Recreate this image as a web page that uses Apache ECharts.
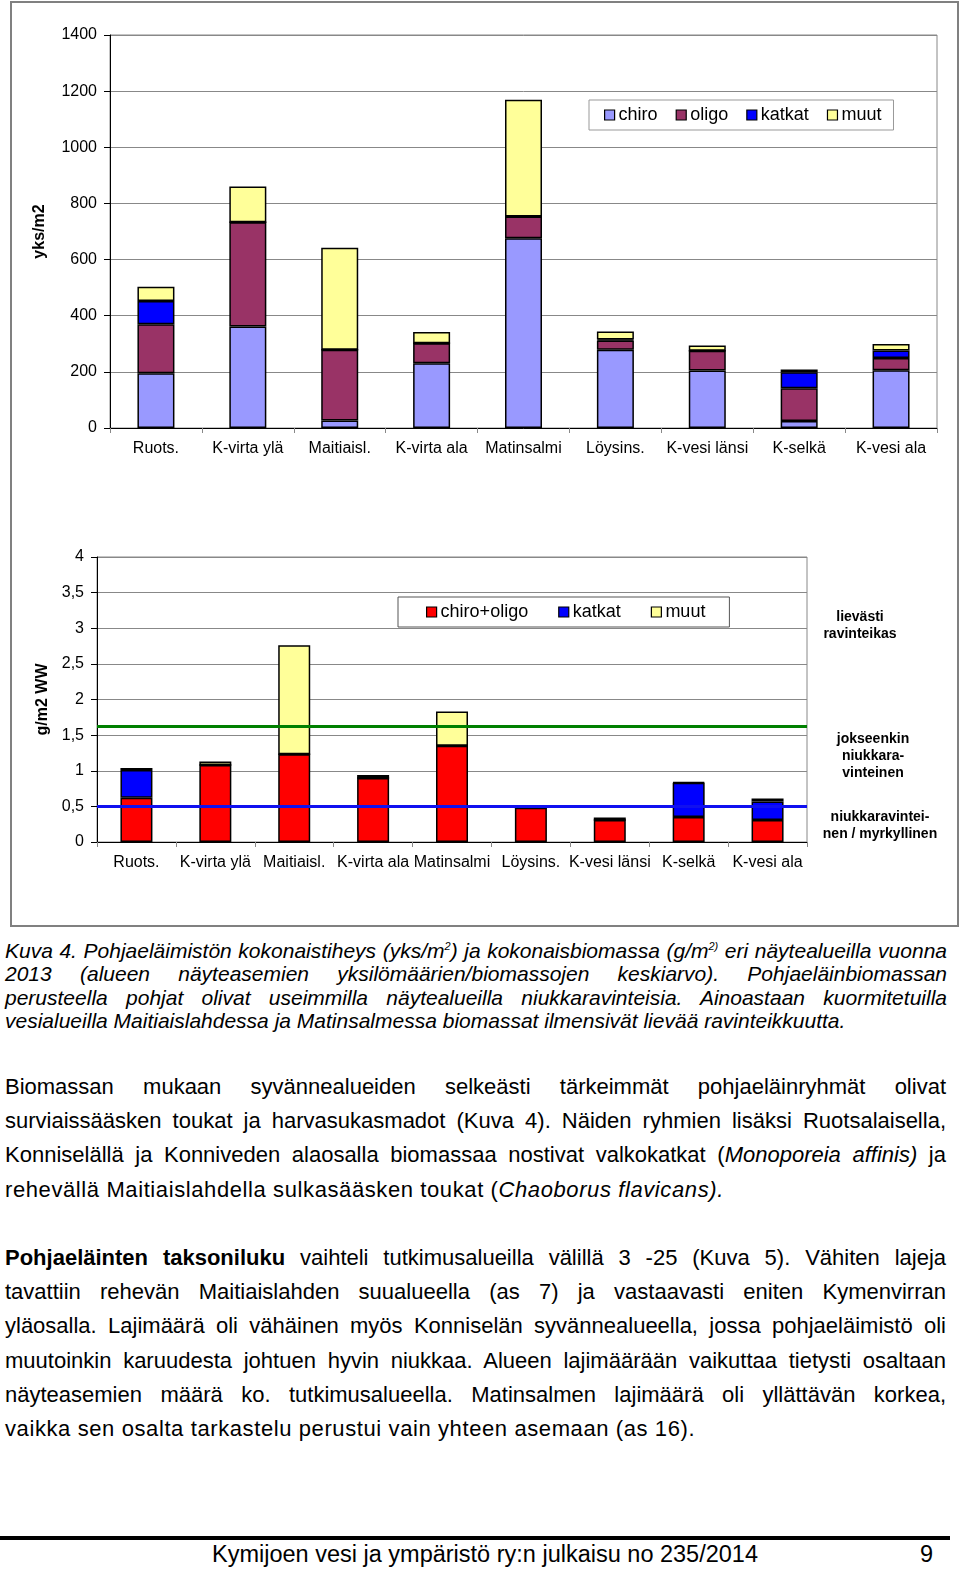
<!DOCTYPE html>
<html><head><meta charset="utf-8">
<script src="https://cdn.jsdelivr.net/npm/echarts@6/dist/echarts.min.js"></script>
<style>
body{margin:0;background:#fff;width:960px;height:1571px;position:relative;overflow:hidden;font-family:"Liberation Sans",Arial,sans-serif;color:#000}
#frame{position:absolute;left:10px;top:1px;width:945px;height:922px;border:2px solid #808080}
#chartTop{position:absolute;left:0;top:0;width:960px;height:470px}
#chartBot{position:absolute;left:0;top:470px;width:960px;height:460px}
.blk div{white-space:nowrap;text-align:justify;text-align-last:justify}
.blk div.last{text-align-last:left}
#caption{position:absolute;left:5px;top:939px;width:942px;font-style:italic;font-size:21px;line-height:23.4px}
#body{position:absolute;left:5px;top:1070px;width:941px;font-size:22px;line-height:34.2px}
#body .gap{height:34.2px}
#body div.last{letter-spacing:0.6px}
#rule{position:absolute;left:0;top:1536px;width:950px;height:4px;background:#000}
#foot{position:absolute;left:0;top:1540px;width:960px;font-size:23.5px;line-height:28px}
sup{font-size:11px;line-height:0}
</style></head><body>
<div id="frame"></div>
<div id="chartTop"></div>
<div id="chartBot"></div>
<div id="caption" class="blk">
<div>Kuva 4. Pohjaeläimistön kokonaistiheys (yks/m<sup>2</sup>) ja kokonaisbiomassa (g/m<sup>2)</sup> eri näytealueilla vuonna</div>
<div>2013 (alueen näyteasemien yksilömäärien/biomassojen keskiarvo). Pohjaeläinbiomassan</div>
<div>perusteella pohjat olivat useimmilla näytealueilla niukkaravinteisia. Ainoastaan kuormitetuilla</div>
<div class="last">vesialueilla Maitiaislahdessa ja Matinsalmessa biomassat ilmensivät lievää ravinteikkuutta.</div>
</div>
<div id="body" class="blk">
<div>Biomassan mukaan syvännealueiden selkeästi tärkeimmät pohjaeläinryhmät olivat</div>
<div>surviaissääsken toukat ja harvasukasmadot (Kuva 4). Näiden ryhmien lisäksi Ruotsalaisella,</div>
<div>Konniselällä ja Konniveden alaosalla biomassaa nostivat valkokatkat (<i>Monoporeia affinis)</i> ja</div>
<div class="last">rehevällä Maitiaislahdella sulkasääsken toukat (<i>Chaoborus flavicans).</i></div>
<div class="gap"></div>
<div><b>Pohjaeläinten taksoniluku</b> vaihteli tutkimusalueilla välillä 3 -25 (Kuva 5). Vähiten lajeja</div>
<div>tavattiin rehevän Maitiaislahden suualueella (as 7) ja vastaavasti eniten Kymenvirran</div>
<div>yläosalla. Lajimäärä oli vähäinen myös Konniselän syvännealueella, jossa pohjaeläimistö oli</div>
<div>muutoinkin karuudesta johtuen hyvin niukkaa. Alueen lajimäärään vaikuttaa tietysti osaltaan</div>
<div>näyteasemien määrä ko. tutkimusalueella. Matinsalmen lajimäärä oli yllättävän korkea,</div>
<div class="last">vaikka sen osalta tarkastelu perustui vain yhteen asemaan (as 16).</div>
</div>
<div id="rule"></div>
<div id="foot"><span style="position:absolute;left:212px;top:0">Kymijoen vesi ja ympäristö ry:n julkaisu no 235/2014</span><span style="position:absolute;left:920px;top:0">9</span></div>
<script>
var categories = ['Ruots.','K-virta ylä','Maitiaisl.','K-virta ala','Matinsalmi','Löysins.','K-vesi länsi','K-selkä','K-vesi ala'];
// top chart: yks/m2
var chiro  = [195, 362, 27, 231, 676, 279, 205, 25, 206];
var oligo  = [175, 371, 252, 71, 77, 33, 70, 117, 43];
var katkat = [82, 0, 0, 0, 0, 3, 0, 57, 27];
var muut   = [51, 127, 363, 40, 416, 29, 19, 9, 23];
var topTicks = [0, 1400, 200];
// bottom chart: g/m2 WW
var chiroOligo = [0.62, 1.08, 1.23, 0.90, 1.35, 0.48, 0.31, 0.35, 0.31];
var katkatB    = [0.39, 0, 0, 0, 0, 0, 0, 0.48, 0.26];
var muutB      = [0.03, 0.05, 1.53, 0.04, 0.48, 0.01, 0.035, 0.01, 0.04];
var botTicks = [0, 4, 0.5];
var greenLevel = 1.63, blueLevel = 0.5;
var classLabels = [['lievästi','ravinteikas'],['jokseenkin','niukkara-','vinteinen'],['niukkaravintei-','nen / myrkyllinen']];

var FONT = '"Liberation Sans", Arial, sans-serif';
function bar(name, data, color, w){
  return {name:name, type:'bar', stack:'s', data:data, barWidth:w,
    itemStyle:{color:color, borderColor:'#000', borderWidth:1.5}};
}
function axes(ticks, name, gap, fmt){
  return {
    xAxis:{type:'category', data:categories, boundaryGap:true,
      axisLine:{lineStyle:{color:'#000', width:1}},
      axisTick:{show:true, alignWithLabel:false, length:5, lineStyle:{color:'#888'}},
      axisLabel:{interval:0, color:'#000', fontSize:16, fontFamily:FONT, margin:13}},
    yAxis:{type:'value', min:ticks[0], max:ticks[1], interval:ticks[2],
      name:name, nameLocation:'middle', nameGap:gap, nameRotate:90,
      nameTextStyle:{fontSize:16, fontWeight:'bold', fontFamily:FONT, color:'#000'},
      axisLine:{show:true, lineStyle:{color:'#000', width:1}},
      axisTick:{show:true, length:6, lineStyle:{color:'#000'}},
      axisLabel:{color:'#000', fontSize:16, fontFamily:FONT, margin:13, formatter:fmt},
      splitLine:{lineStyle:{color:'#888', width:1}}}
  };
}
var chTop = echarts.init(document.getElementById('chartTop'), null, {renderer:'canvas'});
var ta = axes(topTicks, 'yks/m2', 62, function(v){return String(v);});
chTop.setOption({
  animation:false,
  grid:{left:110, top:35, width:827, height:393, show:true, borderColor:'#888', borderWidth:1, backgroundColor:'#fff'},
  xAxis:ta.xAxis, yAxis:ta.yAxis,
  legend:{left:589, top:100, padding:[6,12,6,15], borderColor:'#999', borderWidth:1, itemWidth:10, itemHeight:10, itemGap:18,
    icon:'rect', textStyle:{fontSize:18, fontFamily:FONT, color:'#000', padding:[0,0,0,-1]},
    itemStyle:{borderColor:'#000', borderWidth:1.2}, data:['chiro','oligo','katkat','muut']},
  series:[bar('chiro',chiro,'#9999FF',37), bar('oligo',oligo,'#993366',37), bar('katkat',katkat,'#0000FF',37), bar('muut',muut,'#FFFF99',37)]
});

var chBot = echarts.init(document.getElementById('chartBot'), null, {renderer:'canvas'});
var ba = axes(botTicks, 'g/m2 WW', 46, function(v){return String(v).replace('.',',');});
var gx = [860, 873, 880];
var gy = [[147,164],[269,286,303],[347,364]];
var graphics = [];
classLabels.forEach(function(lines, i){
  lines.forEach(function(t, j){
    graphics.push({type:'text', x:gx[i], y:gy[i][j], style:{text:t, fontSize:14, fontWeight:'bold', fontFamily:FONT, fill:'#000', textAlign:'center', textVerticalAlign:'middle'}});
  });
});
var bs = [bar('chiro+oligo',chiroOligo,'#FF0000',32), bar('katkat',katkatB,'#0000FF',32), bar('muut',muutB,'#FFFF99',32)];
bs[0].markLine = {silent:true, symbol:'none', label:{show:false},
  data:[{yAxis:greenLevel, lineStyle:{color:'#008000', width:3, type:'solid'}},
        {yAxis:blueLevel, lineStyle:{color:'#1010F0', width:3, type:'solid'}}]};
chBot.setOption({
  animation:false,
  grid:{left:97, top:87, width:710, height:285, show:true, borderColor:'#888', borderWidth:1, backgroundColor:'#fff'},
  xAxis:ba.xAxis, yAxis:ba.yAxis,
  legend:{left:398, top:127, padding:[6,24,6,28], borderColor:'#555', borderWidth:1, itemWidth:10, itemHeight:10, itemGap:30,
    icon:'rect', textStyle:{fontSize:18, fontFamily:FONT, color:'#000', padding:[0,0,0,-1]},
    itemStyle:{borderColor:'#000', borderWidth:1.2}, data:['chiro+oligo','katkat','muut']},
  graphic:graphics,
  series:bs
});
</script>
</body></html>
